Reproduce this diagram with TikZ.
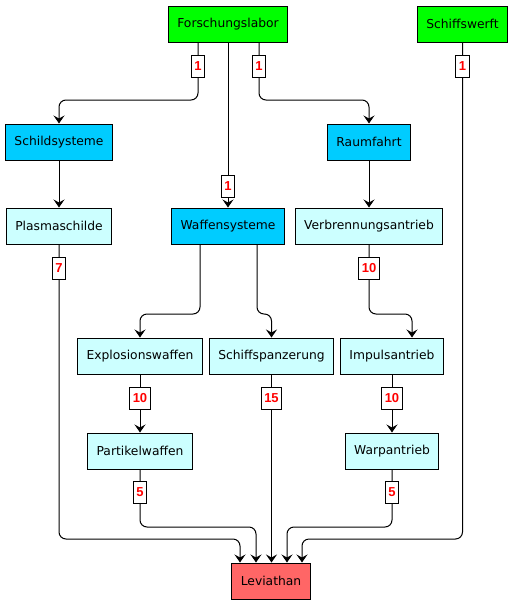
\documentclass[tikz,border=0pt]{standalone}
\definecolor{labgreen}{RGB}{0, 255, 0}
\definecolor{sysblue}{RGB}{0, 204, 255}
\definecolor{techcyan}{RGB}{204, 255, 255}
\definecolor{bossred}{RGB}{255, 102, 102}
\definecolor{costred}{RGB}{255, 0, 0}
\usepackage{fontspec}
\setmainfont{DejaVu Sans}
\newfontfamily\costfont{Liberation Sans}
\usepackage{tikz}
\usetikzlibrary{shapes, arrows.meta, positioning, calc}

\begin{document}
\begin{tikzpicture}[x=1pt, y=-1pt,
    box/.style={draw=black, line width=1pt, minimum height=36pt, inner xsep=9pt,
      font=\fontsize{12.3}{14}\selectfont},
    start/.style={box, fill=labgreen},
    branch/.style={box, fill=sysblue},
    tech/.style={box, fill=techcyan},
    goal/.style={box, fill=bossred},
    conn/.style={line width=1pt, rounded corners=7pt, -{Stealth[length=8pt, width=11pt, inset=3pt]}},
    cost/.style={draw=black, fill=white, line width=0.8pt, minimum height=22pt, inner xsep=3pt,
      inner ysep=0pt, text=costred, font=\costfont\bfseries\fontsize{13}{15}\selectfont, sharp corners}]
  \useasboundingbox (0,0) rectangle (514,606);

  % top row
  \node[start] (forsch) at (228,24) {Forschungslabor};
  \node[start] (werft) at (462.5,24) {Schiffswerft};
  % branches
  \node[branch] (schild) at (59,142) {Schildsysteme};
  \node[branch] (raum) at (369,142) {Raumfahrt};
  \node[tech] (plasma) at (59,226) {Plasmaschilde};
  \node[branch] (waffen) at (228,226) {Waffensysteme};
  \node[tech] (verbr) at (369,226) {Verbrennungsantrieb};
  \node[tech] (explo) at (140,356) {Explosionswaffen};
  \node[tech] (panzer) at (271.5,356) {Schiffspanzerung};
  \node[tech] (impuls) at (392,356) {Impulsantrieb};
  \node[tech] (partikel) at (140,451) {Partikelwaffen};
  \node[tech] (warp) at (392,451) {Warpantrieb};
  % goal
  \node[goal] (levi) at (271,581) {Leviathan};

  % connectors
  \draw[conn] ([xshift=-30pt]forsch.south) -- node[cost, pos=.41]{1} (198,100) -| (schild.north);
  \draw[conn] (forsch.south) -- node[cost, pos=.87]{1} (waffen.north);
  \draw[conn] ([xshift=31pt]forsch.south) -- node[cost, pos=.41]{1} (259,100) -| (raum.north);
  \draw[conn] (werft.south) -- node[cost, pos=.048]{1} (462.5,539) -| ([xshift=31pt]levi.north);
  \draw[conn] (schild.south) -- (plasma.north);
  \draw[conn] (raum.south) -- (verbr.north);
  \draw[conn] (plasma.south) -- node[cost, pos=.081]{7} (59,539) -| ([xshift=-31pt]levi.north);
  \draw[conn] ([xshift=-28pt]waffen.south) -- (200,314) -| (explo.north);
  \draw[conn] ([xshift=29pt]waffen.south) -- (257,314) -| (panzer.north);
  \draw[conn] (verbr.south) -- node[cost, pos=.343]{10} (369,314) -| ([xshift=20pt]impuls.north);
  \draw[conn] (explo.south) -- node[cost, pos=.41]{10} (partikel.north);
  \draw[conn] (panzer.south) -- node[cost, pos=.127]{15} (panzer.south |- levi.north);
  \draw[conn] (impuls.south) -- node[cost, pos=.41]{10} (warp.north);
  \draw[conn] (partikel.south) -- node[cost, pos=.4]{5} (140,527) -| ([xshift=-15pt]levi.north);
  \draw[conn] (warp.south) -- node[cost, pos=.4]{5} (392,527) -| ([xshift=16pt]levi.north);
\end{tikzpicture}
\end{document}
